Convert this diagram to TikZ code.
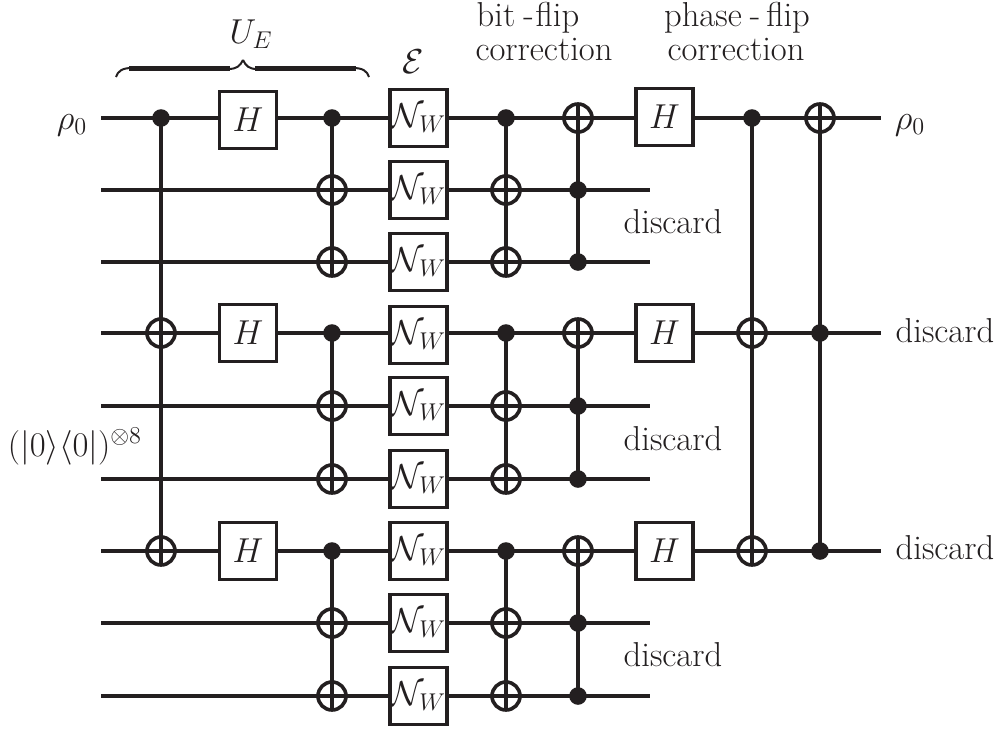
\RequirePackage{fix-cm}
\documentclass[tikz,border=0pt]{standalone}
\definecolor{ink}{HTML}{231F20}
\tikzset{
  wire/.style={line width=2.1pt,color=ink},
  gatebox/.style={draw=ink,line width=1.7pt,fill=white,minimum size=28.5pt,inner sep=0pt,outer sep=0pt,text=ink},
  ctrl/.style={circle,fill=ink,minimum size=8.8pt,inner sep=0pt,outer sep=0pt},
  targ/.style={circle,draw=ink,line width=1.8pt,minimum size=14pt,inner sep=0pt,outer sep=0pt},
  lbl/.style={text=ink,inner sep=0pt,anchor=base},
}
\begin{document}
\begin{tikzpicture}[x=0.5pt,y=-0.5pt,font=\fontsize{17.3}{21}\selectfont]
\useasboundingbox (0,0) rectangle (998,729);
% wire end points
\foreach \n/\y/\e in {1/118/881,2/190/650,3/262/650,4/333/881,5/406/650,6/479/650,7/551/881,8/623/650,9/696/650}{
  \coordinate (ws\n) at (101,\y);
  \coordinate (we\n) at (\e,\y);
  \draw[wire] (ws\n) -- (we\n);
}
% labels
\node[lbl] (rhoin) at (72,129) {$\rho_0$};
\node[lbl] (rhoout) at (910,129) {$\rho_0$};
\node[lbl] (anc) at (75,456) {$(|0\rangle\langle 0|)^{\otimes 8}$};
\node[lbl] (ue) at (251,43) {$U_E$};
\node[lbl] (chan) at (413,73) {$\mathcal{E}$};
\node[lbl] (bf1) at (528,26) {bit\kern4pt-\kern1pt flip};
\node[lbl] (bf2) at (544,60) {correction};
\node[lbl] (pf1) at (737,26) {phase\kern4pt-\kern3pt flip};
\node[lbl] (pf2) at (736,60) {correction};
\node[lbl] (d1) at (673,233) {discard};
\node[lbl] (d2) at (673,450) {discard};
\node[lbl] (d3) at (673,666) {discard};
\node[lbl] (d4) at (945,342) {discard};
\node[lbl] (d5) at (945,559) {discard};
% brace
\draw[ink,line width=1pt] (116,77) .. controls (118,71) and (122,68) .. (132,68);
\draw[ink,line width=1pt] (369,77) .. controls (367,71) and (363,68) .. (353,68);
\draw[ink,line width=2.3pt] (129,68.5) -- (230,68.5);
\draw[ink,line width=2.3pt] (255,68.5) -- (356,68.5);
\draw[ink,line width=1pt] (228,69) .. controls (237,69) and (240,66) .. (243,60);
\draw[ink,line width=1pt] (257,69) .. controls (249,69) and (246,66) .. (243,60);
% Hadamards
\foreach \n/\x/\y in {a/248/120,b/248/333,c/248/551,d/664.5/117,e/664.5/333,f/664.5/551}{
  \node[gatebox] (h\n) at (\x,\y) {$H$};
}
% noise channels
\foreach \n/\y in {1/118,2/190,3/262,4/335,5/406,6/479,7/551,8/623,9/696}{
  \node[gatebox] (nw\n) at (418.5,\y) {$\mathcal{N}_W$};
}
% column 1
\node[ctrl] (a1) at (161,118) {};
\node[targ] (a4) at (161,333) {};
\node[targ] (a7) at (161,551) {};
\draw[wire] (a1.center) -- (a7.south);
% columns 2 to 4
\foreach \r/\t/\m/\b in {a/118/190/262,b/333/406/479,c/551/623/696}{
  \node[ctrl] (b\r1) at (332,\t) {};
  \node[targ] (b\r2) at (332,\m) {};
  \node[targ] (b\r3) at (332,\b) {};
  \draw[wire] (b\r1.center) -- (b\r3.south);
  \node[ctrl] (c\r1) at (506,\t) {};
  \node[targ] (c\r2) at (506,\m) {};
  \node[targ] (c\r3) at (506,\b) {};
  \draw[wire] (c\r1.center) -- (c\r3.south);
  \node[targ] (e\r1) at (578,\t) {};
  \node[ctrl] (e\r2) at (578,\m) {};
  \node[ctrl] (e\r3) at (578,\b) {};
  \draw[wire] (e\r1.north) -- (e\r3.center);
}
% column 5
\node[ctrl] (f1) at (752,118) {};
\node[targ] (f4) at (752,333) {};
\node[targ] (f7) at (752,551) {};
\draw[wire] (f1.center) -- (f7.south);
% column 6
\node[targ] (g1) at (820,118) {};
\node[ctrl] (g4) at (820,333) {};
\node[ctrl] (g7) at (820,551) {};
\draw[wire] (g1.north) -- (g7.center);
\end{tikzpicture}
\end{document}
